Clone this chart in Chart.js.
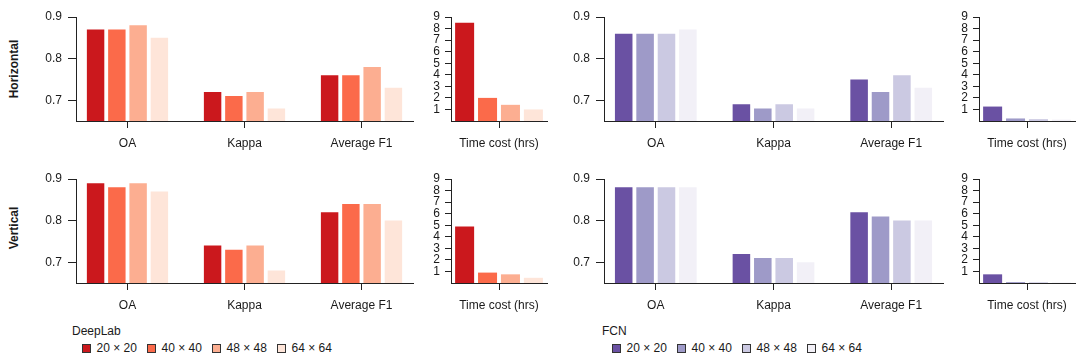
<!DOCTYPE html>
<html><head><meta charset="utf-8">
<script src="https://cdn.jsdelivr.net/npm/chart.js@4.4.1/dist/chart.umd.min.js"></script>
<style>
html,body{margin:0;padding:0;background:#fff}
body{width:1076px;height:360px;position:relative;overflow:hidden;font-family:"Liberation Sans",Arial,sans-serif;color:#1a1a1a}
.pnl{position:absolute}
.rowt{position:absolute;font-size:12px;font-weight:bold;white-space:nowrap;line-height:14px;transform:translate(-50%,-50%) rotate(-90deg)}
.lgt{position:absolute;font-size:12px;line-height:14px;white-space:nowrap}
.sw{position:absolute;width:7px;height:7px;border:1px solid #333}
</style></head><body>
<script>
// ---------- data ----------
const metricCategories = ['OA', 'Kappa', 'Average F1'];
const timeCategories = ['Time cost (hrs)'];
const sizeLabels = ['20 × 20', '40 × 40', '48 × 48', '64 × 64'];
const metricTicks = [0.7, 0.8, 0.9];
const timeTicks = [1, 2, 3, 4, 5, 6, 7, 8, 9];
const rowTitles = ['Horizontal', 'Vertical'];
const modelNames = ['DeepLab', 'FCN'];
const deeplabColors = ['#cb181d', '#fb6a4a', '#fcae91', '#fee5d9'];
const fcnColors = ['#6a51a3', '#9e9ac8', '#cbc9e2', '#f2f0f7'];

// metrics: one array per patch size, values for [OA, Kappa, Average F1]
const deeplabHorizontalMetrics = [[0.87, 0.72, 0.76], [0.87, 0.71, 0.76], [0.88, 0.72, 0.78], [0.85, 0.68, 0.73]];
const deeplabVerticalMetrics   = [[0.89, 0.74, 0.82], [0.88, 0.73, 0.84], [0.89, 0.74, 0.84], [0.87, 0.68, 0.80]];
const fcnHorizontalMetrics     = [[0.86, 0.69, 0.75], [0.86, 0.68, 0.72], [0.86, 0.69, 0.76], [0.87, 0.68, 0.73]];
const fcnVerticalMetrics       = [[0.88, 0.72, 0.82], [0.88, 0.71, 0.81], [0.88, 0.71, 0.80], [0.88, 0.70, 0.80]];
// time cost (hrs) per patch size
const deeplabHorizontalTime = [8.5, 2.0, 1.4, 1.0];
const deeplabVerticalTime   = [4.9, 0.9, 0.75, 0.45];
const fcnHorizontalTime     = [1.25, 0.22, 0.16, 0.12];
const fcnVerticalTime       = [0.75, 0.08, 0.06, 0.05];

// ---------- layout ----------
Chart.defaults.font.family = '"Liberation Sans", Arial, sans-serif';
Chart.defaults.font.size = 12;
Chart.defaults.color = '#1a1a1a';
const AX = '#222';

function fixY(w) { return s => { s.width = w; s.paddingTop = 0; s.paddingBottom = 0; s.paddingLeft = 0; s.paddingRight = 0; }; }
function fixX(h) { return s => { s.height = h; s.paddingTop = 0; s.paddingBottom = 0; s.paddingLeft = 0; s.paddingRight = 0; }; }

function panel(area, kind, values, colors) {
  const padL = 4, padT = 10, padB = 2, padR = area.right >= 1074 ? 1 : 3;
  const yW = kind === 'metric' ? 40 : 30, xH = 36;
  const aw = area.right - area.left, ah = area.bottom - area.top;
  const W = padL + yW + aw + padR, H = padT + ah + xH + padB;
  const div = document.createElement('div');
  div.className = 'pnl';
  div.style.left = (area.left - yW - padL) + 'px';
  div.style.top = (area.top - padT) + 'px';
  const cv = document.createElement('canvas');
  cv.width = W; cv.height = H; cv.style.width = W + 'px'; cv.style.height = H + 'px';
  div.appendChild(cv);
  document.body.appendChild(div);

  let datasets, xScale, yScale;
  if (kind === 'metric') {
    datasets = values.map((arr, k) => ({
      label: sizeLabels[k],
      data: arr.map((v, i) => ({ x: i + 1, y: v })),
      backgroundColor: colors[k], borderWidth: 0,
      categoryPercentage: 0.727, barPercentage: 0.82
    }));
    xScale = {
      type: 'linear', min: 0.56, max: 3.44, offset: false, bounds: 'data',
      afterBuildTicks: s => { s.ticks = metricCategories.map((c, i) => ({ value: i + 1 })); },
      afterFit: fixX(xH),
      grid: { display: true, drawOnChartArea: false, drawTicks: true, tickLength: 7, color: AX, offset: false, lineWidth: 1 },
      border: { display: true, color: AX, width: 1 },
      ticks: { autoSkip: false, maxRotation: 0, padding: 8, color: '#1a1a1a', callback: v => metricCategories[Math.round(v) - 1] }
    };
    yScale = {
      type: 'linear', min: 0.65, max: 0.9, bounds: 'data',
      afterBuildTicks: s => { s.ticks = metricTicks.map(v => ({ value: v })); },
      afterFit: fixY(yW),
      grid: { display: true, drawOnChartArea: false, drawTicks: true, tickLength: 8, color: AX, lineWidth: 1 },
      border: { display: true, color: AX, width: 1 },
      ticks: { autoSkip: false, padding: 6, color: '#1a1a1a', callback: v => Number(v).toFixed(1) }
    };
  } else {
    datasets = values.map((v, k) => ({
      label: sizeLabels[k], data: [v],
      backgroundColor: colors[k], borderWidth: 0,
      categoryPercentage: 0.955, barPercentage: 0.83
    }));
    xScale = {
      type: 'category', labels: timeCategories, offset: true,
      afterFit: fixX(xH),
      grid: { display: true, drawOnChartArea: false, drawTicks: true, tickLength: 7, color: AX, offset: false, lineWidth: 1 },
      border: { display: true, color: AX, width: 1 },
      ticks: { autoSkip: false, maxRotation: 0, padding: 8, color: '#1a1a1a' }
    };
    yScale = {
      type: 'linear', min: 0, max: 9, bounds: 'data',
      afterBuildTicks: s => { s.ticks = timeTicks.map(v => ({ value: v })); },
      afterFit: fixY(yW),
      grid: { display: true, drawOnChartArea: false, drawTicks: true, tickLength: 6, color: AX, lineWidth: 1 },
      border: { display: true, color: AX, width: 1 },
      ticks: { autoSkip: false, padding: 5, color: '#1a1a1a' }
    };
  }
  new Chart(cv, {
    type: 'bar',
    data: { labels: kind === 'metric' ? undefined : timeCategories, datasets },
    options: {
      responsive: false, animation: false, devicePixelRatio: 1,
      layout: { padding: { left: padL, top: padT, right: padR, bottom: padB } },
      plugins: { legend: { display: false }, tooltip: { enabled: false }, title: { display: false } },
      scales: { x: xScale, y: yScale }
    }
  });
}

const rows = [{ top: 17, bottom: 121 }, { top: 179, bottom: 283 }];
const cols = { dlM: [76, 413], dlT: [451, 547], fcM: [604, 943], fcT: [979, 1075] };
const A = (c, r) => ({ left: c[0], right: c[1], top: r.top, bottom: r.bottom });

panel(A(cols.dlM, rows[0]), 'metric', deeplabHorizontalMetrics, deeplabColors);
panel(A(cols.dlT, rows[0]), 'time', deeplabHorizontalTime, deeplabColors);
panel(A(cols.fcM, rows[0]), 'metric', fcnHorizontalMetrics, fcnColors);
panel(A(cols.fcT, rows[0]), 'time', fcnHorizontalTime, fcnColors);
panel(A(cols.dlM, rows[1]), 'metric', deeplabVerticalMetrics, deeplabColors);
panel(A(cols.dlT, rows[1]), 'time', deeplabVerticalTime, deeplabColors);
panel(A(cols.fcM, rows[1]), 'metric', fcnVerticalMetrics, fcnColors);
panel(A(cols.fcT, rows[1]), 'time', fcnVerticalTime, fcnColors);

// row titles
[[14, 69], [14, 228]].forEach((p, i) => {
  const d = document.createElement('div');
  d.className = 'rowt'; d.textContent = rowTitles[i];
  d.style.left = p[0] + 'px'; d.style.top = p[1] + 'px';
  document.body.appendChild(d);
});

// legends
function legend(x0, name, colors) {
  const t = document.createElement('div');
  t.className = 'lgt'; t.textContent = name;
  t.style.left = x0 + 'px'; t.style.top = '324px';
  document.body.appendChild(t);
  sizeLabels.forEach((lab, k) => {
    const sx = x0 + 9.5 + k * 65;
    const s = document.createElement('div');
    s.className = 'sw'; s.style.background = colors[k];
    s.style.left = sx + 'px'; s.style.top = '344px';
    document.body.appendChild(s);
    const l = document.createElement('div');
    l.className = 'lgt'; l.textContent = lab;
    l.style.left = (sx + 15) + 'px'; l.style.top = '341px';
    document.body.appendChild(l);
  });
}
legend(72, modelNames[0], deeplabColors);
legend(602, modelNames[1], fcnColors);
</script>
</body></html>
